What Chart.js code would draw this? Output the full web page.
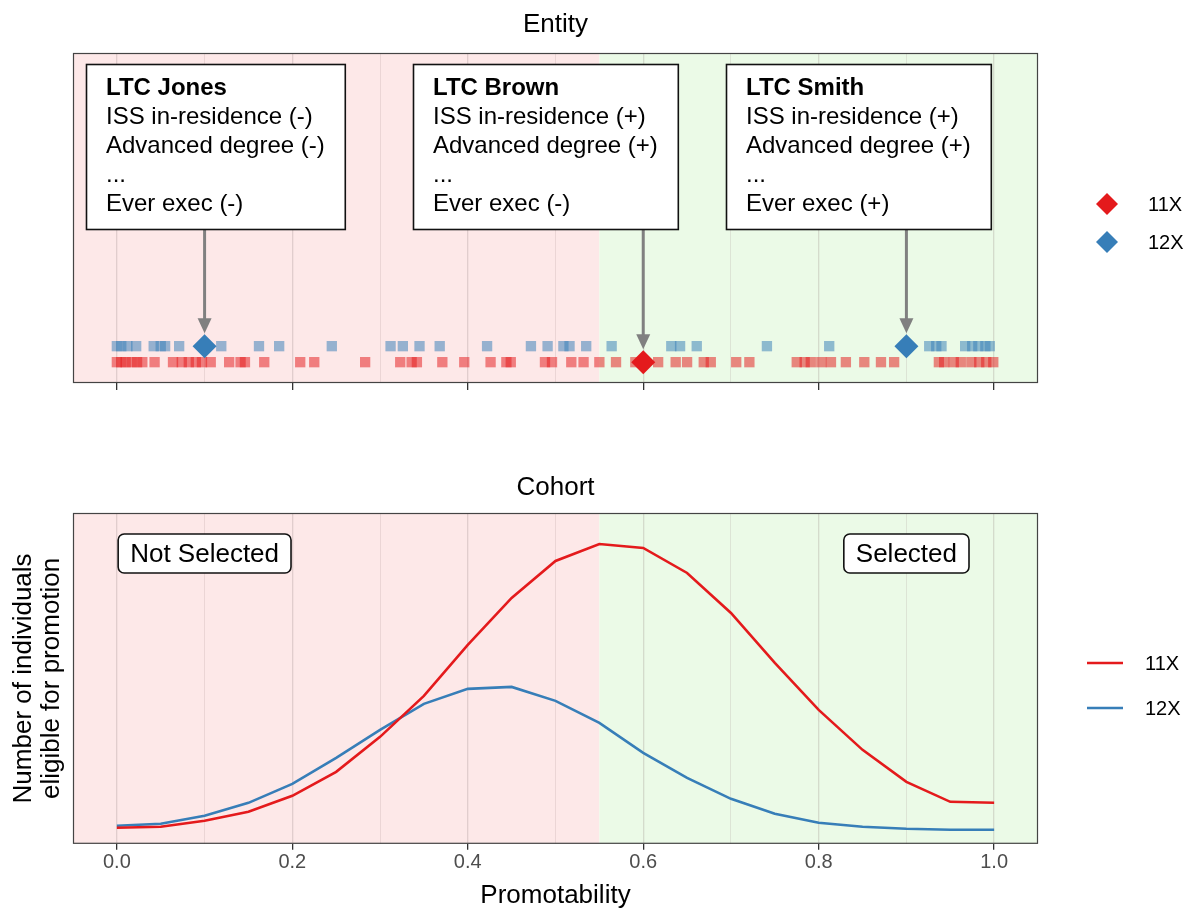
<!DOCTYPE html>
<html>
<head>
<meta charset="utf-8">
<script src="https://cdn.jsdelivr.net/npm/chart.js@4.4.1/dist/chart.umd.min.js"></script>
<style>
  html, body { margin: 0; padding: 0; background: #ffffff; }
  #wrap { position: relative; width: 1191px; height: 914px; }
  #topCanvas { position: absolute; left: 0; top: 0; }
  #botCanvas { position: absolute; left: 0; top: 430px; }
</style>
</head>
<body>
<div id="wrap">
  <canvas id="topCanvas" width="1191" height="430"></canvas>
  <canvas id="botCanvas" width="1191" height="484"></canvas>
</div>
<script>
// ---------------- DATA ----------------
const cohorts = ['11X', '12X'];
const cohortLevel = [1, 2];               // row of each cohort in the Entity strip
const cohortColors = ['#E41A1C', '#377EB8'];

const gridValues = [0, 0.1, 0.2, 0.3, 0.4, 0.5, 0.6, 0.7, 0.8, 0.9, 1.0];
const tickLabels = ['0.0', '', '0.2', '', '0.4', '', '0.6', '', '0.8', '', '1.0'];
const selectionCutoff = 0.55;

const panelTitles = ['Entity', 'Cohort'];
const xAxisTitle = 'Promotability';
const yAxisTitle = ['Number of individuals', 'eligible for promotion'];

// individual promotability scores (Entity strip)
const entity11X = [0, 0.005, 0.01, 0.017, 0.023, 0.029, 0.043, 0.064, 0.074, 0.082, 0.09, 0.097,
  0.107, 0.128, 0.141, 0.146, 0.168, 0.209, 0.225, 0.283, 0.323, 0.336, 0.342, 0.371, 0.396,
  0.426, 0.444, 0.449, 0.488, 0.496, 0.518, 0.532, 0.55, 0.569, 0.591, 0.6, 0.617, 0.637, 0.65,
  0.669, 0.677, 0.706, 0.721, 0.775, 0.784, 0.791, 0.803, 0.814, 0.831, 0.852, 0.871, 0.886,
  0.937, 0.943, 0.954, 0.962, 0.974, 0.983, 0.991, 0.999];
const entity12X = [0, 0.005, 0.012, 0.022, 0.042, 0.05, 0.055, 0.071, 0.1, 0.119, 0.162, 0.185,
  0.245, 0.312, 0.326, 0.345, 0.368, 0.422, 0.472, 0.491, 0.509, 0.516, 0.535, 0.564, 0.632,
  0.642, 0.661, 0.741, 0.812, 0.9, 0.926, 0.934, 0.94, 0.967, 0.975, 0.982, 0.99, 0.995];

// highlighted officers
const highlightNames = ['LTC Jones', 'LTC Brown', 'LTC Smith'];
const highlightX = [0.1, 0.6, 0.9];
const highlightCohort = ['12X', '11X', '12X'];
const highlightLines = [
  ['ISS in-residence (-)', 'Advanced degree (-)', '...', 'Ever exec (-)'],
  ['ISS in-residence (+)', 'Advanced degree (+)', '...', 'Ever exec (-)'],
  ['ISS in-residence (+)', 'Advanced degree (+)', '...', 'Ever exec (+)']
];
const calloutAnchorX = [0.112, 0.489, 0.845];

// Cohort curves
const curveX = [0, 0.05, 0.1, 0.15, 0.2, 0.25, 0.3, 0.35, 0.4, 0.45, 0.5,
  0.55, 0.6, 0.65, 0.7, 0.75, 0.8, 0.85, 0.9, 0.95, 1.0];
const curve11X = [16, 17, 23, 32, 48, 72, 107, 148, 199, 246, 283,
  300, 296, 271, 231, 181, 134, 94, 62, 42, 41];
const curve12X = [18, 20, 28, 41, 60, 86, 114, 140, 155, 157, 143,
  121, 91, 66, 45, 30, 21, 17, 15, 14, 14];

const regionLabels = ['Not Selected', 'Selected'];
const regionLabelX = [0.1, 0.9];

// ---------------- STYLE ----------------
const FONT = '"Liberation Sans", Arial, Helvetica, sans-serif';
Chart.defaults.font.family = FONT;
Chart.defaults.color = '#000000';
const regionFill = ['#fde8e8', '#ebfae7'];

function alpha(hex, a) {
  const n = parseInt(hex.slice(1), 16);
  return `rgba(${(n >> 16) & 255},${(n >> 8) & 255},${n & 255},${a})`;
}

function xScale(showLabels) {
  return {
    type: 'linear', min: -0.05, max: 1.05,
    afterBuildTicks: s => { s.ticks = gridValues.map(v => ({ value: v })); },
    ticks: {
      display: showLabels, autoSkip: false, maxRotation: 0, minRotation: 0,
      padding: 1, color: '#4d4d4d', font: { size: 20 },
      callback: (v, i) => tickLabels[i]
    },
    grid: {
      color: c => tickLabels[c.index] ? 'rgba(140,120,120,0.24)' : 'rgba(140,120,120,0.16)',
      lineWidth: c => tickLabels[c.index] ? 1.3 : 1,
      tickColor: c => tickLabels[c.index] ? '#333333' : 'rgba(0,0,0,0)',
      tickLength: showLabels ? 6 : 7,
      tickWidth: 1.3
    },
    border: { display: false },
    title: showLabels
      ? { display: true, text: xAxisTitle, color: '#000', font: { size: 26 }, padding: { top: 4, bottom: 0 } }
      : { display: false }
  };
}

const regionsPlugin = {
  id: 'regions',
  beforeDraw(chart) {
    const { ctx, chartArea: a, scales: { x } } = chart;
    const xc = x.getPixelForValue(selectionCutoff);
    ctx.save();
    ctx.fillStyle = regionFill[0];
    ctx.fillRect(a.left, a.top, xc - a.left, a.bottom - a.top);
    ctx.fillStyle = regionFill[1];
    ctx.fillRect(xc, a.top, a.right - xc, a.bottom - a.top);
    ctx.restore();
  },
  afterDraw(chart) {
    const { ctx, chartArea: a } = chart;
    ctx.save();
    ctx.strokeStyle = '#444444';
    ctx.lineWidth = 1.2;
    ctx.strokeRect(a.left + 0.5, a.top + 0.5, a.right - a.left - 1, a.bottom - a.top - 1);
    ctx.restore();
  }
};

function drawTitle(chart, text, y) {
  const { ctx, chartArea: a } = chart;
  ctx.save();
  ctx.font = `26px ${FONT}`;
  ctx.fillStyle = '#000';
  ctx.textAlign = 'center';
  ctx.textBaseline = 'middle';
  ctx.fillText(text, (a.left + a.right) / 2, y);
  ctx.restore();
}

// ---------------- TOP: Entity ----------------
const topDecor = {
  id: 'topDecor',
  afterDatasetsDraw(chart) {
    const { ctx, chartArea: a, scales: { x, y } } = chart;
    ctx.save();
    highlightNames.forEach((name, i) => {
      const lines = [name, ...highlightLines[i]];
      ctx.font = `bold 24px ${FONT}`;
      let w = ctx.measureText(name).width;
      ctx.font = `24px ${FONT}`;
      highlightLines[i].forEach(t => { w = Math.max(w, ctx.measureText(t).width); });
      const boxW = w + 40, lineH = 29, boxH = lines.length * lineH + 20;
      const cx = x.getPixelForValue(calloutAnchorX[i]);
      const left = Math.round(cx - boxW / 2), top = a.top + 11;
      // arrow
      const ax = x.getPixelForValue(highlightX[i]);
      const level = cohortLevel[cohorts.indexOf(highlightCohort[i])];
      const tipY = y.getPixelForValue(level) - 13;
      ctx.strokeStyle = '#808080';
      ctx.fillStyle = '#808080';
      ctx.lineWidth = 3;
      ctx.beginPath();
      ctx.moveTo(ax, top + boxH);
      ctx.lineTo(ax, tipY - 12);
      ctx.stroke();
      ctx.beginPath();
      ctx.moveTo(ax - 7, tipY - 15);
      ctx.lineTo(ax + 7, tipY - 15);
      ctx.lineTo(ax, tipY);
      ctx.closePath();
      ctx.fill();
      // box
      ctx.fillStyle = '#ffffff';
      ctx.fillRect(left, top, boxW, boxH);
      ctx.strokeStyle = '#111111';
      ctx.lineWidth = 1.6;
      ctx.strokeRect(left + 0.5, top + 0.5, boxW, boxH);
      ctx.fillStyle = '#000';
      ctx.textAlign = 'left';
      ctx.textBaseline = 'middle';
      lines.forEach((t, j) => {
        ctx.font = (j === 0 ? 'bold ' : '') + `24px ${FONT}`;
        ctx.fillText(t, left + 20, top + 10 + lineH / 2 + j * lineH);
      });
    });
    ctx.restore();
  },
  afterDraw(chart) {
    const { ctx } = chart;
    drawTitle(chart, panelTitles[0], 25);
    ctx.save();
    cohorts.forEach((c, i) => {
      const cy = 204 + i * 38, cx = 1107, r = 11;
      ctx.fillStyle = cohortColors[i];
      ctx.beginPath();
      ctx.moveTo(cx - r, cy); ctx.lineTo(cx, cy - r); ctx.lineTo(cx + r, cy); ctx.lineTo(cx, cy + r);
      ctx.closePath(); ctx.fill();
      ctx.fillStyle = '#000';
      ctx.font = `20px ${FONT}`;
      ctx.textAlign = 'left';
      ctx.textBaseline = 'middle';
      ctx.fillText(c, 1148, cy + 1);
    });
    ctx.restore();
  }
};

const entityData = [entity11X, entity12X];
const topDatasets = [];
cohorts.forEach((c, i) => {
  topDatasets.push({
    label: c + ' highlight',
    data: highlightX.map((v, k) => ({ x: v, y: cohortLevel[i], c: highlightCohort[k] })).filter(d => d.c === c),
    pointStyle: 'rectRot', pointRadius: 12, backgroundColor: cohortColors[i],
    borderColor: cohortColors[i], borderWidth: 0, order: 0
  });
});
cohorts.forEach((c, i) => {
  topDatasets.push({
    label: c,
    data: entityData[i].map(v => ({ x: v, y: cohortLevel[i] })),
    pointStyle: 'rect', pointRadius: 7.3, backgroundColor: alpha(cohortColors[i], 0.52),
    borderWidth: 0, order: 1
  });
});

new Chart(document.getElementById('topCanvas'), {
  type: 'scatter',
  data: { datasets: topDatasets },
  options: {
    responsive: false, animation: false, events: [],
    layout: { padding: { left: 73, right: 153, top: 53, bottom: 40 } },
    plugins: { legend: { display: false }, tooltip: { enabled: false } },
    scales: {
      x: xScale(false),
      y: { type: 'linear', min: -0.3, max: 20.3, display: false }
    }
  },
  plugins: [regionsPlugin, topDecor]
});

// ---------------- BOTTOM: Cohort ----------------
const botDecor = {
  id: 'botDecor',
  afterDatasetsDraw(chart) {
    const { ctx, chartArea: a, scales: { x } } = chart;
    ctx.save();
    ctx.font = `26px ${FONT}`;
    regionLabels.forEach((t, i) => {
      const w = ctx.measureText(t).width + 24, h = 39;
      const cx = x.getPixelForValue(regionLabelX[i]);
      const left = cx - w / 2, top = a.top + 21;
      ctx.beginPath();
      ctx.roundRect(left, top, w, h, 6);
      ctx.fillStyle = '#ffffff';
      ctx.fill();
      ctx.strokeStyle = '#111111';
      ctx.lineWidth = 1.6;
      ctx.stroke();
      ctx.fillStyle = '#000';
      ctx.textAlign = 'center';
      ctx.textBaseline = 'middle';
      ctx.fillText(t, cx, top + h / 2 + 1);
    });
    ctx.restore();
  },
  afterDraw(chart) {
    const { ctx } = chart;
    drawTitle(chart, panelTitles[1], 58);
    ctx.save();
    cohorts.forEach((c, i) => {
      const cy = 233 + i * 45;
      ctx.strokeStyle = cohortColors[i];
      ctx.lineWidth = 2.5;
      ctx.beginPath();
      ctx.moveTo(1087, cy); ctx.lineTo(1123, cy);
      ctx.stroke();
      ctx.fillStyle = '#000';
      ctx.font = `20px ${FONT}`;
      ctx.textAlign = 'left';
      ctx.textBaseline = 'middle';
      ctx.fillText(c, 1145, cy + 1);
    });
    ctx.restore();
  }
};

const curveData = [curve11X, curve12X];
new Chart(document.getElementById('botCanvas'), {
  type: 'line',
  data: {
    datasets: cohorts.map((c, i) => ({
      label: c,
      data: curveX.map((v, k) => ({ x: v, y: curveData[i][k] })),
      borderColor: cohortColors[i], borderWidth: 2.6, pointRadius: 0,
      fill: false, tension: 0
    }))
  },
  options: {
    responsive: false, animation: false, events: [],
    layout: { padding: { left: 10, right: 153, top: 83, bottom: 3 } },
    plugins: { legend: { display: false }, tooltip: { enabled: false } },
    scales: {
      x: xScale(true),
      y: {
        type: 'linear', min: 0, max: 331,
        ticks: { display: false },
        grid: { display: false, drawTicks: false },
        border: { display: false },
        title: {
          display: true, text: yAxisTitle, color: '#000',
          font: { size: 26, lineHeight: '28px' }, padding: { top: 0, bottom: 7 }
        }
      }
    }
  },
  plugins: [regionsPlugin, botDecor]
});
</script>
</body>
</html>
